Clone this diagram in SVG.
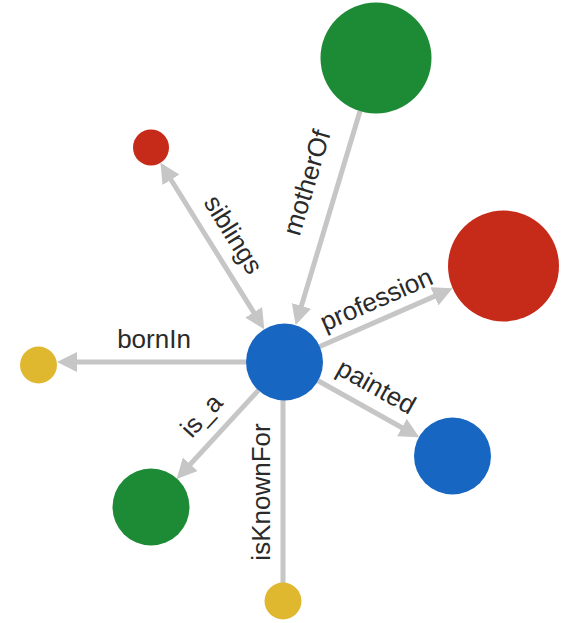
<svg xmlns="http://www.w3.org/2000/svg" width="571" height="623" viewBox="0 0 571 623">
  <style>
    .edge { stroke: #c6c6c6; stroke-width: 5; fill: none; }
    .arr { marker-end: url(#arrow); }
    .lbl { font-family: "Liberation Sans", Arial, sans-serif; font-size: 26px; fill: #2a2a2a; text-anchor: middle; }
    .green { fill: #1d8a35; }
    .red { fill: #c62a19; }
    .blue { fill: #1766c2; }
    .yellow { fill: #e0b830; }
  </style>
  <defs>
    <marker id="arrow" markerUnits="userSpaceOnUse" markerWidth="20" markerHeight="20" refX="8" refY="10" orient="auto-start-reverse" viewBox="0 0 20 20">
      <path d="M0,0 L20,10 L0,20 z" fill="#c6c6c6"/>
    </marker>
  </defs>
  <rect width="571" height="623" fill="#ffffff"/>
  <g id="connectors">
    <line class="edge" x1="166.8" y1="173.0" x2="257.9" y2="319.1" marker-start="url(#arrow)" marker-end="url(#arrow)"/>
    <line class="edge arr" x1="360.1" y1="110.7" x2="299.1" y2="313.6"/>
    <line class="edge arr" x1="319.8" y1="346.5" x2="441.7" y2="293.1"/>
    <line class="edge arr" x1="246" y1="362" x2="69" y2="362"/>
    <line class="edge arr" x1="318.1" y1="380.8" x2="408.8" y2="431.5"/>
    <line class="edge arr" x1="258.4" y1="390.3" x2="184.8" y2="470.2"/>
    <line class="edge" x1="283" y1="398" x2="283" y2="584"/>
    <text class="lbl" transform="translate(231,236) rotate(58.1)" y="6">siblings</text>
    <text class="lbl" transform="translate(306.5,182.5) rotate(-73.25)" y="9">motherOf</text>
    <text class="lbl" transform="translate(377.5,302) rotate(-23.7)" y="6">profession</text>
    <text class="lbl" x="154" y="347.5">bornIn</text>
    <text class="lbl" transform="translate(375,389) rotate(29.2)" y="6">painted</text>
    <text class="lbl" transform="translate(203,417) rotate(-47.4)" y="6.5">is_a</text>
    <text class="lbl" transform="translate(261,492) rotate(-90)" y="9">isKnownFor</text>
  </g>
  <g id="node-mother"><circle class="green" cx="376" cy="58" r="55.5"/></g>
  <g id="node-sibling"><circle class="red" cx="151" cy="147.5" r="18"/></g>
  <g id="node-profession"><circle class="red" cx="503.5" cy="266" r="55.5"/></g>
  <g id="node-center"><circle class="blue" cx="284.5" cy="362" r="38.5"/></g>
  <g id="node-bornin"><circle class="yellow" cx="38.5" cy="365" r="18.5"/></g>
  <g id="node-painting"><circle class="blue" cx="452.5" cy="456" r="38.5"/></g>
  <g id="node-type"><circle class="green" cx="151" cy="507" r="38.5"/></g>
  <g id="node-knownfor"><circle class="yellow" cx="283" cy="601" r="18.5"/></g>
</svg>
